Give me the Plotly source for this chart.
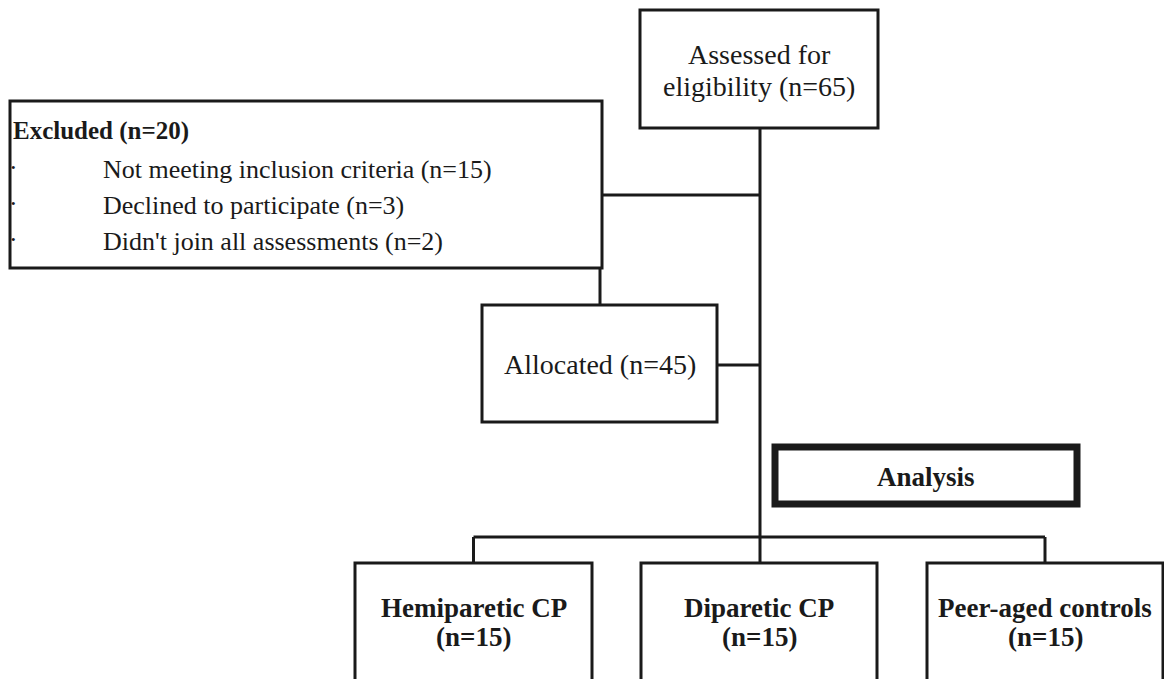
import plotly.graph_objects as go

# ---- data (text content of the flow chart) ----
assessed_label = ["Assessed for", "eligibility (n=65)"]
excluded_title = "Excluded (n=20)"
excluded_reasons = ["Not meeting inclusion criteria", "Declined to participate", "Didn't join all assessments"]
excluded_counts = [15, 3, 2]
allocated_label = "Allocated (n=45)"
analysis_label = "Analysis"
groups = ["Hemiparetic CP", "Diparetic CP", "Peer-aged controls"]
group_counts = [15, 15, 15]

# ---- geometry (pixel layout of the diagram) ----
W, H = 1164, 679
FONT = "Liberation Serif, Times New Roman, serif"
FS = 28
INK = "#1a1a1a"
LW = 3

box_assessed = (640, 10, 878, 128)
box_excluded = (10, 101, 602, 268)
box_allocated = (482, 305, 717, 422)
box_analysis = (775, 447, 1077, 504)
group_boxes = [(355, 563, 592, 700), (641, 563, 877, 700), (927, 563, 1163, 700)]
main_x = 760
branch_y = 537

shapes = []


def rect(b, w=LW):
    shapes.append(dict(type="rect", x0=b[0], y0=b[1], x1=b[2], y1=b[3],
                       line=dict(color=INK, width=w), fillcolor="white", layer="above"))


def line(x0, y0, x1, y1, w=LW):
    shapes.append(dict(type="line", x0=x0, y0=y0, x1=x1, y1=y1,
                       line=dict(color=INK, width=w), layer="below"))


# connectors
line(main_x, box_assessed[3], main_x, group_boxes[1][1])
line(box_excluded[2], 195, main_x, 195)
line(600, box_excluded[3], 600, box_allocated[1])
line(box_allocated[2], 365, main_x, 365)
cx = [(b[0] + b[2]) / 2 for b in group_boxes]
line(cx[0], branch_y, cx[2], branch_y)
for c in (cx[0], cx[2]):
    line(c, branch_y, c, group_boxes[0][1])

# boxes
rect(box_assessed)
rect(box_excluded)
rect(box_allocated)
rect(box_analysis, w=7)
for b in group_boxes:
    rect(b)

ann = []


def text(x, y, s, bold=False, anchor="center", size=FS):
    ann.append(dict(x=x, y=y, text=f"<b>{s}</b>" if bold else s, showarrow=False,
                    xanchor=anchor, yanchor="middle",
                    font=dict(family=FONT, size=size, color=INK)))


text((box_assessed[0] + box_assessed[2]) / 2, 54, assessed_label[0])
text((box_assessed[0] + box_assessed[2]) / 2, 86, assessed_label[1])

text(11, 131, excluded_title, bold=True, anchor="left", size=25)
for i, (r, n) in enumerate(zip(excluded_reasons, excluded_counts)):
    y = 169 + 36 * i
    text(101, y, f"{r} (n={n})", anchor="left", size=26)
    text(13, y - 2, "•", anchor="center", size=13)

text((box_allocated[0] + box_allocated[2]) / 2, 364, allocated_label)
text((box_analysis[0] + box_analysis[2]) / 2, 477, analysis_label, bold=True, size=27)

for c, g, n in zip(cx, groups, group_counts):
    text(c, 608, g, bold=True, size=27)
    text(c, 637, f"(n={n})", bold=True, size=27)

fig = go.Figure()
fig.update_layout(
    width=W, height=H,
    margin=dict(l=0, r=0, t=0, b=0),
    paper_bgcolor="white", plot_bgcolor="white",
    xaxis=dict(range=[0, W], visible=False, fixedrange=True),
    yaxis=dict(range=[H, 0], visible=False, fixedrange=True),
    shapes=shapes, annotations=ann, showlegend=False,
)
fig.write_html("out.html", config={"displayModeBar": False},
               post_script="document.body.style.margin='0';document.body.style.overflow='hidden';")
